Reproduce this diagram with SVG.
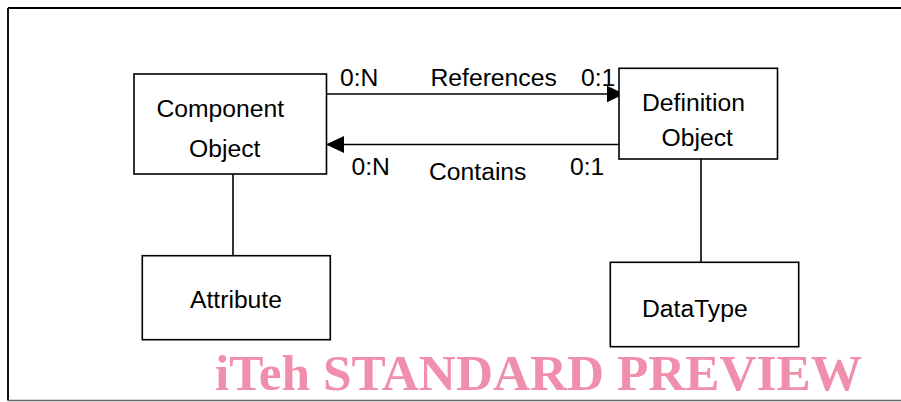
<svg xmlns="http://www.w3.org/2000/svg" width="901" height="402" viewBox="0 0 901 402">
<style>
.box{fill:#fff;stroke:#000;stroke-width:1.6}
.lbl{font-family:"Liberation Sans",Arial,sans-serif;font-size:24.7px;fill:#000}
.ln{stroke:#000;stroke-width:1.6;fill:none}
.wm{font-family:"Liberation Serif","Times New Roman",serif;font-weight:bold;font-size:51.3px;fill:#F08FAB}
</style>
<defs>
<marker id="ah" markerWidth="18" markerHeight="18" refX="18" refY="9" orient="auto" markerUnits="userSpaceOnUse">
<path d="M0,0.5 L18,9 L0,17.5 Z" fill="#000"/>
</marker>
</defs>
<rect x="0" y="0" width="901" height="402" fill="#fff"/>
<g id="frame">
<path d="M8,8 H901" stroke="#000" stroke-width="2.2" fill="none"/>
<path d="M8,8 V400.5" stroke="#111" stroke-width="2" fill="none"/>
<path d="M8,400.5 H901" stroke="#666" stroke-width="1.6" fill="none"/>
</g>
<g id="connectors">
<path class="ln" d="M324,94 H624.5" marker-end="url(#ah)"/>
<path class="ln" d="M619,144.5 H326" marker-end="url(#ah)"/>
<path class="ln" d="M233,174 V256"/>
<path class="ln" d="M701,159 V262"/>
<text class="lbl" x="340" y="86">0:N</text>
<text class="lbl" x="430.5" y="86">References</text>
<text class="lbl" x="581" y="86">0:1</text>
<text class="lbl" x="351.5" y="174.5">0:N</text>
<text class="lbl" x="429" y="179.5">Contains</text>
<text class="lbl" x="570" y="174.5">0:1</text>
</g>
<g id="component">
<rect class="box" x="134" y="74" width="192.5" height="100"/>
<text class="lbl" x="156.5" y="116.5">Component</text>
<text class="lbl" x="189" y="156.5">Object</text>
</g>
<g id="definition">
<rect class="box" x="619" y="68.3" width="158.5" height="90.7"/>
<text class="lbl" x="642" y="110.5">Definition</text>
<text class="lbl" x="661.5" y="146">Object</text>
</g>
<g id="attribute">
<rect class="box" x="142.3" y="255.7" width="188" height="84"/>
<text class="lbl" x="190" y="307.5">Attribute</text>
</g>
<g id="datatype">
<rect class="box" x="610.3" y="262.3" width="188.4" height="84.4"/>
<text class="lbl" x="642" y="316.5">DataType</text>
</g>
<text class="wm" x="215" y="389.5">iTeh STANDARD PREVIEW</text>
</svg>
